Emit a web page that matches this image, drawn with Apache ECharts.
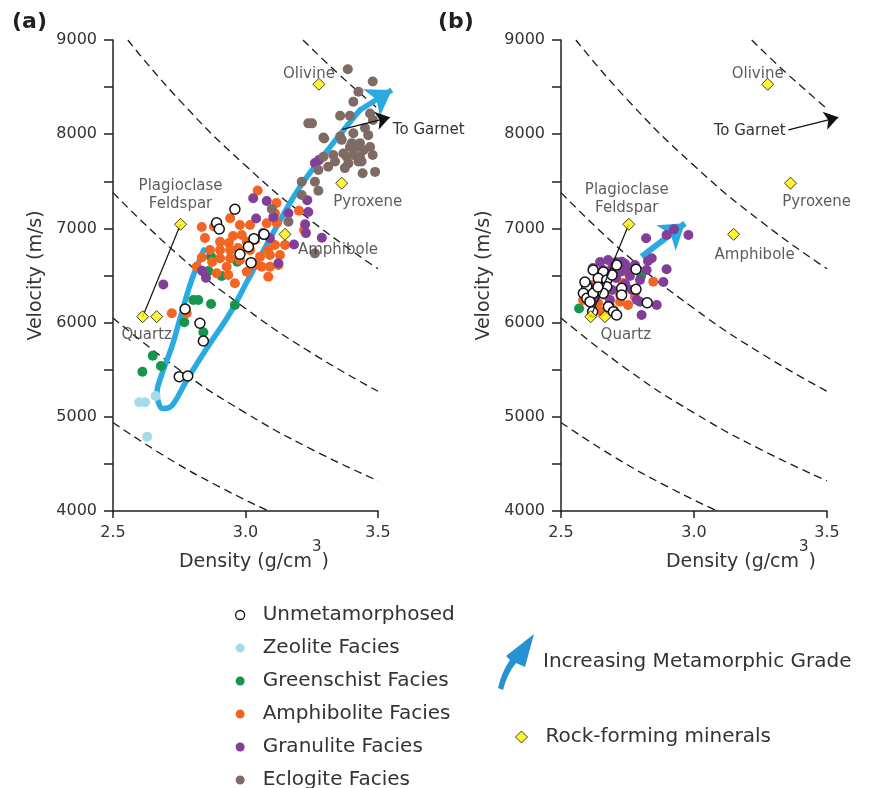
<!DOCTYPE html>
<html>
<head>
<meta charset="utf-8">
<title>Velocity vs density by metamorphic facies</title>
<script src="https://cdn.jsdelivr.net/npm/echarts@6.0.0/dist/echarts.min.js"></script>
<style>
  html, body { margin: 0; padding: 0; background: #fff; }
  #chart { width: 881px; height: 788px; }
</style>
</head>
<body>
<div id="chart"></div>
<script>
// values are [density g/cm3, velocity m/s]

// panel (a)
const unmetA = [[2.960,7203],[2.891,7060],[2.901,6994],[3.070,6937],[3.032,6891],[3.011,6806],[2.979,6725],[3.021,6636],[2.772,6144],[2.828,5993],[2.841,5805],[2.750,5426],[2.782,5433]]
const zeoliteA = [[2.599,5154],[2.621,5154],[2.661,5221],[2.629,4789]]
const greenA = [[2.870,6700],[2.969,6646],[2.860,6548],[2.910,6495],[2.803,6240],[2.822,6240],[2.870,6197],[2.960,6187],[2.769,6003],[2.841,5897],[2.650,5649],[2.611,5479],[2.681,5539]]
const amphA = [[3.046,7402],[3.117,7270],[2.942,7107],[2.979,7036],[3.017,7036],[3.080,7054],[3.118,7054],[2.835,7015],[2.881,7020],[3.202,7188],[3.221,6983],[3.149,6824],[3.111,7160],[2.986,6930],[2.953,6919],[3.005,6859],[2.904,6859],[2.937,6845],[2.866,6771],[2.904,6771],[2.942,6771],[3.086,6771],[2.835,6691],[2.904,6683],[2.942,6683],[3.055,6700],[3.092,6718],[3.130,6718],[3.111,6824],[2.929,6593],[3.036,6611],[3.061,6593],[3.092,6593],[3.124,6611],[3.005,6540],[2.891,6523],[2.935,6505],[3.086,6487],[2.816,6593],[2.960,6417],[2.722,6099],[2.778,6099],[2.874,6643],[2.979,6664],[3.017,6771],[2.847,6898],[3.036,6877],[2.972,6792]]
const granA = [[3.262,7695],[3.277,7725],[3.029,7320],[3.080,7290],[3.040,7105],[3.105,7120],[3.162,7160],[3.233,7300],[3.237,7175],[3.225,7045],[3.066,6950],[3.092,6895],[3.183,6830],[3.288,6900],[3.228,6950],[2.690,6405],[2.836,6550],[2.851,6475],[3.124,6630]]
const eclogA = [[3.386,8690],[3.480,8560],[3.426,8450],[3.407,8345],[3.357,8195],[3.394,8195],[3.237,8115],[3.251,8115],[3.470,8220],[3.481,8150],[3.451,8065],[3.294,7965],[3.357,7975],[3.407,8010],[3.463,7990],[3.401,7905],[3.432,7905],[3.470,7865],[3.331,7780],[3.369,7795],[3.294,7760],[3.407,7780],[3.432,7760],[3.480,7780],[3.388,7690],[3.426,7710],[3.312,7655],[3.275,7620],[3.375,7640],[3.442,7585],[3.489,7600],[3.262,7495],[3.212,7495],[3.275,7400],[3.212,7355],[3.099,7205],[3.162,7070],[3.262,6735],[3.363,7940],[3.394,7865],[3.382,7760],[3.338,7710],[3.445,7830],[3.420,7865],[3.438,7710],[3.297,7955]]

// panel (b)
const unmetB = [[2.782,6566],[2.621,6558],[2.659,6537],[2.640,6470],[2.672,6452],[2.597,6381],[2.584,6311],[2.597,6258],[2.621,6311],[2.609,6222],[2.672,6381],[2.659,6311],[2.728,6364],[2.728,6293],[2.678,6169],[2.697,6116],[2.709,6081],[2.619,6116],[2.709,6611],[2.782,6353],[2.824,6211],[2.590,6431],[2.639,6378],[2.692,6505]]
const zeoliteB = []
const greenB = [[2.801,6495],[2.744,6378],[2.568,6150],[2.594,6367],[2.684,6176],[2.628,6282]]
const amphB = [[2.747,6540],[2.847,6434],[2.733,6420],[2.778,6275],[2.722,6222],[2.621,6399],[2.602,6325],[2.653,6116],[2.697,6134],[2.722,6293],[2.665,6293],[2.583,6240],[2.639,6208],[2.752,6187]]
const granB = [[2.820,6895],[2.897,6930],[2.925,6990],[2.979,6930],[2.841,6683],[2.827,6654],[2.897,6566],[2.885,6431],[2.822,6558],[2.797,6222],[2.860,6187],[2.803,6081],[2.785,6240],[2.728,6647],[2.747,6558],[2.647,6643],[2.677,6664],[2.707,6643],[2.741,6622],[2.620,6580],[2.658,6558],[2.692,6580],[2.722,6537],[2.759,6495],[2.639,6473],[2.673,6452],[2.707,6473],[2.741,6410],[2.602,6399],[2.647,6346],[2.692,6346],[2.729,6304],[2.767,6346],[2.628,6261],[2.684,6240],[2.797,6452],[2.778,6611]]
const eclogB = []

// rock-forming minerals (same in both panels)
const mineralNames = ['Olivine', 'Pyroxene', 'Amphibole', 'Plagioclase\nFeldspar', 'Quartz', 'Quartz']
const mineralValues = [[3.277,8530],[3.363,7480],[3.149,6937],[2.755,7043],[2.612,6063],[2.665,6063]]

// dashed lines of constant acoustic impedance
const impedanceLines = [
  [[2.5,4940],[2.7,4574],[2.9,4259],[3.0875,4000]],
  [[2.5,6050],[2.75,5500],[3.0,5042],[3.25,4654],[3.5,4321]],
  [[2.5,7380],[2.75,6709],[3.0,6150],[3.25,5677],[3.5,5271]],
  [[2.556,9000],[2.75,8364],[3.0,7667],[3.25,7077],[3.5,6571]],
  [[3.217,9000],[3.35,8642],[3.5,8271]]
]

// metamorphic grade path (a) and its arrow head, arrow (b)
const gradePathA = [[2.843,6771],[2.797,6452],[2.759,6102],[2.722,5744],[2.681,5426],[2.666,5253],[2.672,5146],[2.687,5088],[2.708,5093],[2.730,5146],[2.779,5391],[2.858,5744],[2.942,6102],[3.009,6452],[3.104,6951],[3.206,7443],[3.330,7903],[3.432,8257]]
const gradeHeadA = [[3.432,8257],[3.552,8469]]
const gradeArrowB = [[2.803,6700],[2.966,7054]]

// "To Garnet" arrows
const garnetA = [[3.365,8052],[3.545,8179]]
const garnetB = [[3.355,8045],[3.543,8179]]

const BLUE = '#29abe2'
const FONT = 'DejaVu Sans'

const facies = [
  { name: 'Zeolite Facies', a: zeoliteA, b: zeoliteB, style: { color: '#a3dbea' } },
  { name: 'Greenschist Facies', a: greenA, b: greenB, style: { color: '#16964c' } },
  { name: 'Amphibolite Facies', a: amphA, b: amphB, style: { color: '#f26522' } },
  { name: 'Granulite Facies', a: granA, b: granB, style: { color: '#823f99' } },
  { name: 'Eclogite Facies', a: eclogA, b: eclogB, style: { color: '#7d6b64' } },
  { name: 'Unmetamorphosed', a: unmetA, b: unmetB, style: { color: '#fff', borderColor: '#111', borderWidth: 1.5 } }
]

// label placement around each mineral diamond, per panel
const mineralLabels = [
  [
    { position: 'top', offset: [-10, 10] },
    { position: 'bottom', offset: [26, -2] },
    { position: 'bottom', offset: [53, -5] },
    { position: 'top', offset: [0, 0] },
    { position: 'bottom', offset: [4, -2] },
    null
  ],
  [
    { position: 'top', offset: [-10, 10] },
    { position: 'bottom', offset: [26, -2] },
    { position: 'bottom', offset: [21, 0] },
    { position: 'top', offset: [-2, 4] },
    { position: 'bottom', offset: [35, -2] },
    null
  ]
]

const axisColor = '#231f20'

const makeXAxis = (gi, shift) => ({
  type: 'value',
  gridIndex: gi,
  min: 2.5,
  max: 3.5,
  interval: 0.5,
  axisLine: { lineStyle: { color: axisColor, width: 1.5 } },
  axisTick: { length: 7, lineStyle: { color: axisColor, width: 1.5 } },
  axisLabel: { color: '#333', fontSize: 16, margin: 14, formatter: (v) => v.toFixed(1) },
  splitLine: { show: false },
  name: '{n|Density (g/cm}{s|3}{n|)}',
  nameLocation: 'middle',
  nameGap: 29,
  nameMoveOverlap: false,
  nameTextStyle: {
    padding: [0, 0, 0, shift],
    rich: {
      n: { fontSize: 19, color: '#333', fontFamily: FONT },
      s: { fontSize: 15, color: '#333', fontFamily: FONT, padding: [0, 0, 30, 0] }
    }
  }
})

const makeYAxis = (gi) => ({
  type: 'value',
  gridIndex: gi,
  min: 4000,
  max: 9000,
  interval: 1000,
  axisLine: { lineStyle: { color: axisColor, width: 1.5 } },
  axisTick: { length: 9, lineStyle: { color: axisColor, width: 1.5 } },
  minorTick: { show: true, splitNumber: 2, length: 9, lineStyle: { color: axisColor, width: 1.5 } },
  axisLabel: { color: '#333', fontSize: 16, margin: 16, formatter: (v) => String(v) },
  splitLine: { show: false },
  name: 'Velocity (m/s)',
  nameLocation: 'middle',
  nameGap: 67,
  nameMoveOverlap: false,
  nameTextStyle: { fontSize: 19, color: '#333' }
})

const series = []

;[0, 1].forEach((gi) => {
  // impedance curves
  impedanceLines.forEach((pts) => {
    series.push({
      type: 'line',
      xAxisIndex: gi,
      yAxisIndex: gi,
      data: pts,
      smooth: true,
      symbol: 'none',
      silent: true,
      z: 1,
      lineStyle: { color: '#1a1a1a', width: 1.3, type: [8, 5] }
    })
  })

  // blue metamorphic grade arrow
  if (gi === 0) {
    series.push({
      type: 'line',
      xAxisIndex: 0,
      yAxisIndex: 0,
      data: gradePathA,
      smooth: 0.4,
      symbol: 'none',
      silent: true,
      z: 2,
      lineStyle: { color: BLUE, width: 5.5, cap: 'round' }
    })
  }
  series.push({
    name: 'Increasing Metamorphic Grade',
    type: 'lines',
    coordinateSystem: 'cartesian2d',
    xAxisIndex: gi,
    yAxisIndex: gi,
    data: [{ coords: gi === 0 ? gradeHeadA : gradeArrowB }],
    symbol: ['none', 'arrow'],
    symbolSize: 24,
    clip: false,
    silent: true,
    z: 2,
    lineStyle: { color: BLUE, width: gi === 0 ? 5.5 : 6, opacity: 1 }
  })

  // facies points
  facies.forEach((f) => {
    series.push({
      name: f.name,
      type: 'scatter',
      xAxisIndex: gi,
      yAxisIndex: gi,
      data: gi === 0 ? f.a : f.b,
      symbol: 'circle',
      symbolSize: 10,
      z: 3,
      itemStyle: Object.assign({ opacity: 1 }, f.style)
    })
  })

  // quartz - plagioclase line
  series.push({
    type: 'line',
    xAxisIndex: gi,
    yAxisIndex: gi,
    data: [mineralValues[4], mineralValues[3]],
    symbol: 'none',
    silent: true,
    z: 4,
    lineStyle: { color: '#111', width: 1.2 }
  })

  // "To Garnet"
  series.push({
    type: 'lines',
    coordinateSystem: 'cartesian2d',
    xAxisIndex: gi,
    yAxisIndex: gi,
    data: [{ coords: gi === 0 ? garnetA : garnetB }],
    symbol: ['none', 'arrow'],
    symbolSize: 14,
    clip: false,
    silent: true,
    z: 4,
    lineStyle: { color: '#111', width: 1.3, opacity: 1 },
    label: gi === 0 ? {
      show: true,
      formatter: 'To Garnet',
      position: 'end',
      distance: 3,
      fontSize: 15,
      color: '#333',
      verticalAlign: 'top',
      lineHeight: 28
    } : {
      show: true,
      formatter: 'To Garnet',
      position: 'start',
      distance: 3,
      fontSize: 15,
      color: '#333'
    }
  })

  // minerals
  series.push({
    name: 'Rock-forming minerals',
    type: 'scatter',
    xAxisIndex: gi,
    yAxisIndex: gi,
    symbol: 'diamond',
    symbolSize: 12,
    z: 5,
    itemStyle: { color: '#fff200', borderColor: '#111', borderWidth: 1 },
    data: mineralValues.map((v, i) => {
      const lab = mineralLabels[gi][i]
      return {
        value: v,
        name: mineralNames[i],
        label: lab ? {
          show: true,
          formatter: '{b}',
          position: lab.position,
          offset: lab.offset,
          fontSize: 15,
          lineHeight: 18,
          color: '#333'
        } : { show: false }
      }
    })
  })
})

const legendText = { fontSize: 20, color: '#333', fontFamily: FONT }
const circleIcon = 'path://M0,4.5A4.5,4.5,0,1,0,9,4.5A4.5,4.5,0,1,0,0,4.5ZM22,4.5L22,4.5'
const arrowIcon = 'path://M0,55Q4,38,12,27L8,23L36,1L27,34L18,30Q9,41,5,57ZM40,57L40,57'
const diamondIcon = 'path://M6,0L12,6L6,12L0,6ZM25,6L25,6'

const option = {
  animation: false,
  backgroundColor: '#fff',
  textStyle: { fontFamily: FONT },
  grid: [
    { left: 113, top: 40, width: 265, height: 471 },
    { left: 561, top: 40, width: 266, height: 471 }
  ],
  xAxis: [makeXAxis(0, 17), makeXAxis(1, 94)],
  yAxis: [makeYAxis(0), makeYAxis(1)],
  legend: [
    {
      orient: 'vertical',
      left: 235,
      top: 605,
      height: 200,
      padding: 0,
      itemWidth: 22,
      itemHeight: 9,
      itemGap: 13,
      selectedMode: false,
      textStyle: legendText,
      data: [
        { name: 'Unmetamorphosed', icon: circleIcon, itemStyle: { borderWidth: 1.3 } },
        { name: 'Zeolite Facies', icon: circleIcon },
        { name: 'Greenschist Facies', icon: circleIcon },
        { name: 'Amphibolite Facies', icon: circleIcon },
        { name: 'Granulite Facies', icon: circleIcon },
        { name: 'Eclogite Facies', icon: circleIcon }
      ]
    },
    {
      left: 493,
      top: 629,
      itemWidth: 40,
      itemHeight: 56,
      selectedMode: false,
      textStyle: legendText,
      data: [{ name: 'Increasing Metamorphic Grade', icon: arrowIcon, itemStyle: { color: '#2592d3', borderWidth: 0 } }]
    },
    {
      left: 510,
      top: 722,
      itemWidth: 25,
      itemHeight: 12,
      selectedMode: false,
      textStyle: legendText,
      data: [{ name: 'Rock-forming minerals', icon: diamondIcon, itemStyle: { borderWidth: 1 } }]
    }
  ],
  graphic: [
    { type: 'text', left: 12, top: 11, style: { text: '(a)', fontSize: 22, fontWeight: 'bold', fill: '#231f20', fontFamily: FONT } },
    { type: 'text', left: 438, top: 11, style: { text: '(b)', fontSize: 22, fontWeight: 'bold', fill: '#231f20', fontFamily: FONT } }
  ],
  series: series
}

const chart = echarts.init(document.getElementById('chart'), null, { renderer: 'canvas' })
chart.setOption(option)
window.addEventListener('resize', () => chart.resize())
</script>
</body>
</html>
